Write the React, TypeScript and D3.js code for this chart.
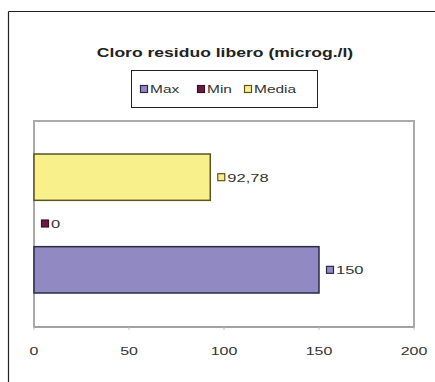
import React from "react";
import * as d3 from "d3";

const title = "Cloro residuo libero (microg./l)";
const seriesNames = ["Max", "Min", "Media"];
const seriesValues = [150, 0, 92.78];
const valueLabels = ["150", "0", "92,78"];
const seriesFill = ["#9189C2", "#6B1A45", "#F8F08A"];
const seriesStroke = ["#2A2A48", "#3A1025", "#5A5420"];
const xTicks = [0, 50, 100, 150, 200];

const W = 435;
const H = 382;
const plot = { left: 34, right: 414, top: 121, bottom: 327 };

function SText(props: {
  x: number;
  y: number;
  sx: number;
  size: number;
  anchor?: string;
  weight?: string;
  fill?: string;
  children: React.ReactNode;
}) {
  const { x, y, sx, size, anchor = "start", weight = "normal", fill = "#222", children } = props;
  return (
    <text
      transform={`translate(${x},${y}) scale(${sx},1)`}
      textAnchor={anchor}
      fontSize={size}
      fontWeight={weight}
      fill={fill}
    >
      {children}
    </text>
  );
}

export default function App() {
  const x = d3.scaleLinear().domain([0, 200]).range([plot.left, plot.right]);
  // bars from top to bottom: Media, Min, Max
  const orderTopDown = [2, 1, 0];
  const y = d3
    .scaleBand<number>()
    .domain(orderTopDown)
    .range([154, 293])
    .paddingInner(0)
    .paddingOuter(0);
  const font = "'Liberation Sans', Arial, sans-serif";
  const legendX = [140, 197, 244];
  return (
    <svg
      width={W}
      height={H}
      style={{ position: "absolute", left: 0, top: 0, background: "#fff" }}
      fontFamily={font}
    >
      <rect x={0} y={0} width={W} height={H} fill="#fff" />
      {/* outer frame */}
      <line x1={8.5} y1={11.5} x2={W} y2={11.5} stroke="#222" strokeWidth={1.2} />
      <line x1={8.5} y1={11.5} x2={8.5} y2={H} stroke="#222" strokeWidth={1.2} />
      {/* title */}
      <SText x={225} y={57} sx={1.35} size={13} anchor="middle" weight="bold">
        {title}
      </SText>
      {/* legend */}
      <rect x={131.5} y={70.5} width={186} height={37} fill="#fff" stroke="#222" strokeWidth={1} />
      {seriesNames.map((n, i) => (
        <g key={n}>
          <rect
            x={legendX[i] + 0.5}
            y={85.5}
            width={7}
            height={7}
            fill={seriesFill[i]}
            stroke={seriesStroke[i]}
            strokeWidth={1.2}
          />
          <SText x={legendX[i] + 10} y={93} sx={1.55} size={10} fill="#333">
            {n}
          </SText>
        </g>
      ))}
      {/* plot area */}
      <rect
        x={plot.left}
        y={plot.top}
        width={plot.right - plot.left}
        height={plot.bottom - plot.top}
        fill="#fff"
        stroke="#aaa"
        strokeWidth={2}
      />
      <line x1={plot.left} y1={plot.bottom} x2={plot.right} y2={plot.bottom} stroke="#999" strokeWidth={1.2} />
      {xTicks.map((t) => (
        <g key={t}>
          <line x1={x(t)} y1={plot.bottom} x2={x(t)} y2={plot.bottom + 3} stroke="#bbb" />
          <SText x={x(t)} y={355} sx={1.45} size={11} anchor="middle" fill="#333">
            {t}
          </SText>
        </g>
      ))}
      {/* bars */}
      {orderTopDown.map((i) => {
        const by = y(i)!;
        const bh = y.bandwidth();
        const w = x(seriesValues[i]) - x(0);
        const cy = by + bh / 2;
        const lx = x(seriesValues[i]) + 7;
        return (
          <g key={i}>
            {w > 0 && (
              <rect
                x={x(0)}
                y={by}
                width={w}
                height={bh}
                fill={seriesFill[i]}
                stroke={seriesStroke[i]}
                strokeWidth={1.5}
              />
            )}
            <rect
              x={lx + 0.5}
              y={cy - 3.5}
              width={7}
              height={7}
              fill={seriesFill[i]}
              stroke={seriesStroke[i]}
              strokeWidth={1.2}
            />
            <SText x={lx + 10} y={cy + 4.5} sx={1.5} size={11} fill="#333">
              {valueLabels[i]}
            </SText>
          </g>
        );
      })}
    </svg>
  );
}
